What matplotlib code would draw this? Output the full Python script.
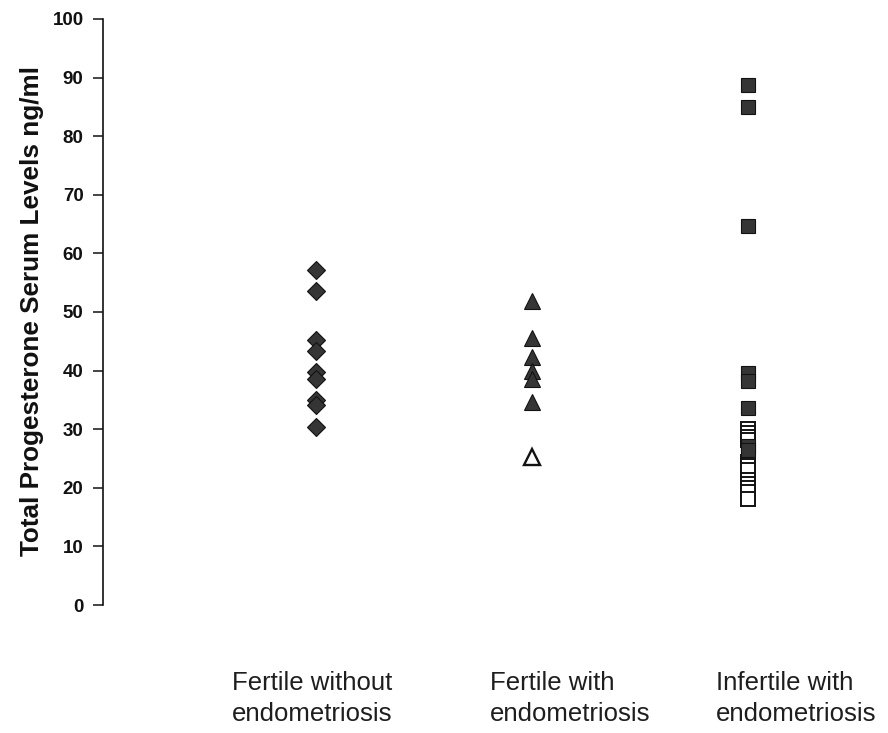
import matplotlib
matplotlib.use("Agg")
import matplotlib.pyplot as plt

# ---- data ----
categories = ["Fertile without\nendometriosis", "Fertile with\nendometriosis", "Infertile with\nendometriosis"]
fertile_without = [57.2, 53.6, 45.3, 43.3, 39.8, 38.6, 35.0, 34.1, 30.4]
fertile_with_filled = [51.9, 45.6, 42.4, 40.0, 38.6, 34.6]
fertile_with_open = [25.2]
infertile_filled = [88.8, 84.9, 64.6, 39.6, 38.3, 33.7]
infertile_open = [30.0, 29.4, 28.7, 28.1, 24.4, 23.8, 23.0, 21.3, 20.6, 20.0, 19.3, 18.1]
infertile_filled_low = [27.2, 26.4]
yticks = [0, 10, 20, 30, 40, 50, 60, 70, 80, 90, 100]
ylabel = "Total Progesterone Serum Levels ng/ml"

group_x = [1, 2, 3]
label_x = [0.611, 1.806, 2.852]

plt.rcParams['font.family'] = ['Liberation Sans', 'DejaVu Sans']

W, H = 888, 733
fig = plt.figure(figsize=(W / 100, H / 100), dpi=100)
ax = fig.add_axes([103 / W, 128 / H, 785 / W, 586 / H])

fill = '#353535'
edge = '#121212'

ax.plot([group_x[0]] * len(fertile_without), fertile_without, linestyle='none', marker='D',
        markersize=9.0, markerfacecolor=fill, markeredgecolor=edge, markeredgewidth=0.8)
ax.plot([group_x[1]] * len(fertile_with_filled), fertile_with_filled, linestyle='none', marker='^',
        markersize=12, markerfacecolor=fill, markeredgecolor=edge, markeredgewidth=0.8)
ax.plot([group_x[1]] * len(fertile_with_open), fertile_with_open, linestyle='none', marker='^',
        markersize=11, markerfacecolor='white', markeredgecolor=edge, markeredgewidth=1.7)
ax.plot([group_x[2]] * len(infertile_filled), infertile_filled, linestyle='none', marker='s',
        markersize=10, markerfacecolor=fill, markeredgecolor=edge, markeredgewidth=0.8)
for v in infertile_open:
    ax.plot([group_x[2]], [v], linestyle='none', marker='s',
            markersize=9.5, markerfacecolor='white', markeredgecolor=edge, markeredgewidth=1.4)
ax.plot([group_x[2]] * len(infertile_filled_low), infertile_filled_low, linestyle='none', marker='s',
        markersize=9.5, markerfacecolor=fill, markeredgecolor=edge, markeredgewidth=0.8)

ax.set_xlim(0.014, 3.648)
ax.set_ylim(0, 100)
ax.set_yticks(yticks)
ax.set_yticklabels([str(t) for t in yticks], fontsize=13.5, fontweight='bold', color='#111111')
ax.tick_params(axis='y', direction='out', length=7, width=1.1, pad=7, color='#111111')
ax.set_xticks([])
for s in ['top', 'right', 'bottom']:
    ax.spines[s].set_visible(False)
ax.spines['left'].set_linewidth(1.2)
ax.spines['left'].set_color('#111111')

for lx, lab in zip(label_x, categories):
    ax.text(lx, -11.2, lab, ha='left', va='top', fontsize=18.5, color='#1e1e1e',
            linespacing=1.4, clip_on=False)

fig.text(32 / W, 1 - 311 / H, ylabel, rotation=90, ha='center', va='center',
         fontsize=18.8, fontweight='bold', color='#111111')

fig.savefig('out.png', dpi=100)
